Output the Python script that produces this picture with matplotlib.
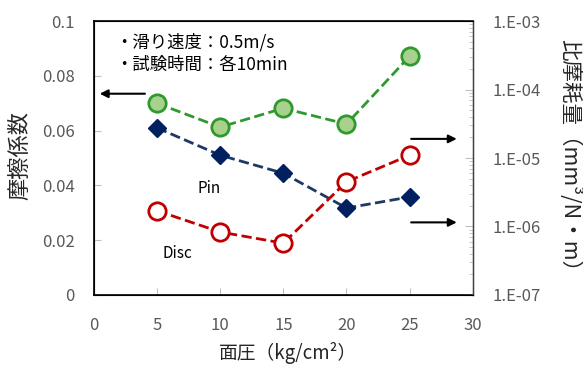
import matplotlib
matplotlib.use("Agg")
import matplotlib.pyplot as plt
from matplotlib.ticker import FixedLocator, LogLocator, NullFormatter

plt.rcParams["font.family"] = ["Noto Sans CJK JP", "DejaVu Sans"]

# data
pressure = [5, 10, 15, 20, 25]
friction = [0.070, 0.0613, 0.0682, 0.0624, 0.0872]
wear_pin = [2.76e-5, 1.1e-5, 6.0e-6, 1.86e-6, 2.7e-6]
wear_disc = [1.7e-6, 8.3e-7, 5.7e-7, 4.5e-6, 1.1e-5]

x_ticks = [0, 5, 10, 15, 20, 25, 30]
y_ticks = [0, 0.02, 0.04, 0.06, 0.08, 0.1]
y_tick_labels = ["0", "0.02", "0.04", "0.06", "0.08", "0.1"]
r_ticks = [1e-7, 1e-6, 1e-5, 1e-4, 1e-3]
r_tick_labels = ["1.E-07", "1.E-06", "1.E-05", "1.E-04", "1.E-03"]

GREEN = "#2e9a2e"
GREEN_FACE = "#a9d18e"
NAVY = "#002060"
RED = "#c00000"
GREY = "#595959"

fig = plt.figure(figsize=(5.83, 3.65), dpi=100)
ax = fig.add_axes([0.161, 0.192, 0.650, 0.750])
ax2 = ax.twinx()

ax.plot(pressure, friction, ls="--", lw=2, color=GREEN, marker="o", ms=12.5,
        mfc=GREEN_FACE, mec=GREEN, mew=2, zorder=3)
ax2.plot(pressure, wear_pin, ls="--", lw=2, color="#1f3864", marker="D", ms=9,
         mfc=NAVY, mec=NAVY, zorder=3)
ax2.plot(pressure, wear_disc, ls="--", lw=2, color=RED, marker="o", ms=12.5,
         mfc="white", mec=RED, mew=2, zorder=3)

ax.set_xlim(0, 30)
ax.set_ylim(0, 0.1)
ax.set_xticks(x_ticks)
ax.set_xticklabels([str(v) for v in x_ticks])
ax.set_yticks(y_ticks)
ax.set_yticklabels(y_tick_labels)
ax.tick_params(axis="both", direction="in", length=5, color="#bfbfbf",
               labelcolor=GREY, labelsize=12)
ax.tick_params(axis="y", pad=14)
ax.tick_params(axis="x", pad=16)

ax2.set_yscale("log")
ax2.set_ylim(1e-7, 1e-3)
ax2.yaxis.set_major_locator(FixedLocator(r_ticks))
ax2.set_yticklabels(r_tick_labels)
ax2.yaxis.set_minor_locator(LogLocator(base=10, subs=range(2, 10)))
ax2.yaxis.set_minor_formatter(NullFormatter())
ax2.tick_params(axis="y", which="both", direction="in", color="#bfbfbf",
                labelcolor=GREY, labelsize=12, pad=14)
ax2.tick_params(axis="y", which="major", length=6)
ax2.tick_params(axis="y", which="minor", length=3)

for s in ("left", "bottom", "top"):
    ax.spines[s].set_color("black")
    ax.spines[s].set_linewidth(1.2)
ax2.spines["right"].set_color("#404040")
ax2.spines["right"].set_linewidth(1.0)

ax.set_xlabel("面圧（kg/cm²）", fontsize=13.5, color="#262626")
ax.xaxis.set_label_coords(0.512, -0.172)
ax.set_ylabel("摩擦係数", fontsize=16, color="#262626")
ax.yaxis.set_label_coords(-0.165, 0.51)
ax2.set_ylabel("比摩耗量（mm³/N・m）", fontsize=15.5, color="#262626",
               rotation=-90, va="center")
ax2.yaxis.set_label_coords(1.256, 0.49)

ax.text(0.055, 0.955, "・滑り速度：0.5m/s\n・試験時間：各10min", transform=ax.transAxes,
        fontsize=12.5, va="top", ha="left", color="black", linespacing=1.25)
ax.text(0.305, 0.39, "Pin", transform=ax.transAxes, fontsize=11, ha="center",
        va="center", color="black")
ax.text(0.22, 0.15, "Disc", transform=ax.transAxes, fontsize=11, ha="center",
        va="center", color="black")

arrow = dict(arrowstyle="-|>", color="black", lw=1.5, mutation_scale=12)
ax.annotate("", xy=(0.008, 0.735), xytext=(0.142, 0.735),
            xycoords="axes fraction", arrowprops=arrow)
ax.annotate("", xy=(0.965, 0.57), xytext=(0.83, 0.57),
            xycoords="axes fraction", arrowprops=arrow)
ax.annotate("", xy=(0.965, 0.265), xytext=(0.83, 0.265),
            xycoords="axes fraction", arrowprops=arrow)

fig.savefig("out.png", dpi=100)
